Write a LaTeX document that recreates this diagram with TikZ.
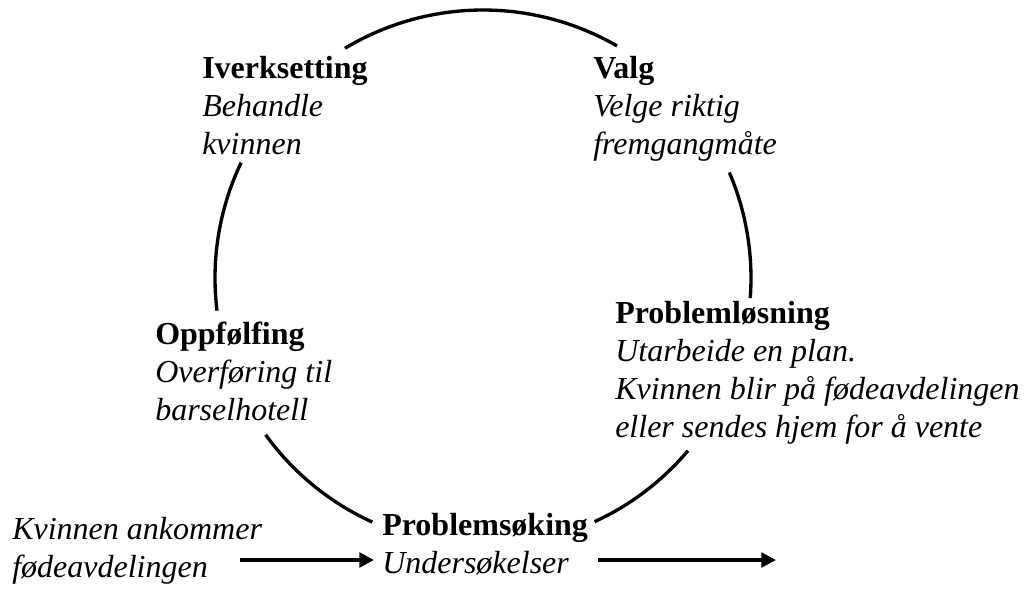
\documentclass[tikz,border=0pt]{standalone}
\usepackage{fontspec}
\setmainfont{Liberation Serif}
\usetikzlibrary{arrows.meta}
\tikzset{
  x=0.75pt, y=0.75pt,
  % multi-line labels: the base anchor sits on the last line
  label text/.style={anchor=base west, inner sep=0pt, align=left,
    font=\fontsize{24}{28.5}\selectfont},
  cycle arc/.style={line width=2.5pt},
  flow/.style={line width=2.5pt, -{Triangle[length=11pt,width=11pt]}}
}
\begin{document}
\begin{tikzpicture}
  \useasboundingbox (0,0) rectangle (1030,-590);
  % centre of the cycle
  \coordinate (c) at (483,-278);
  \def\R{268}

  % stage labels
  \node[label text] (iv) at (202,-154) {\textbf{Iverksetting}\\\textit{Behandle}\\\textit{kvinnen}};
  \node[label text] (va) at (593,-154) {\textbf{Valg}\\\textit{Velge riktig}\\\textit{fremgangmåte}};
  \node[label text] (op) at (155,-420) {\textbf{Oppfølfing}\\\textit{Overføring til}\\\textit{barselhotell}};
  \node[label text] (pl) at (615,-437) {\textbf{Problemløsning}\\\textit{Utarbeide en plan.}\\\textit{Kvinnen blir på fødeavdelingen}\\\textit{eller sendes hjem for å vente}};
  \node[label text] (ps) at (382,-573) {\textbf{Problemsøking}\\\textit{Undersøkelser}};
  \node[label text] (kv) at (12,-577) {\textit{Kvinnen ankommer}\\\textit{fødeavdelingen}};

  % arcs of the cycle between the labels
  \draw[cycle arc] ([shift={(c)}]60:\R) arc[start angle=60, end angle=121, radius=\R];
  \draw[cycle arc] ([shift={(c)}]154.5:\R) arc[start angle=154.5, end angle=187, radius=\R];
  \draw[cycle arc] ([shift={(c)}]215.8:\R) arc[start angle=215.8, end angle=245.6, radius=\R];
  \draw[cycle arc] ([shift={(c)}]294.6:\R) arc[start angle=294.6, end angle=319.9, radius=\R];
  \draw[cycle arc] ([shift={(c)}]-4.3:\R) arc[start angle=-4.3, end angle=23.2, radius=\R];

  % entry and exit arrows
  \coordinate (inStart) at (240,-560);
  \coordinate (inEnd) at (374,-560);
  \coordinate (outStart) at (598,-560);
  \coordinate (outEnd) at (776,-560);
  \draw[flow] (inStart) -- (inEnd);
  \draw[flow] (outStart) -- (outEnd);
\end{tikzpicture}
\end{document}
